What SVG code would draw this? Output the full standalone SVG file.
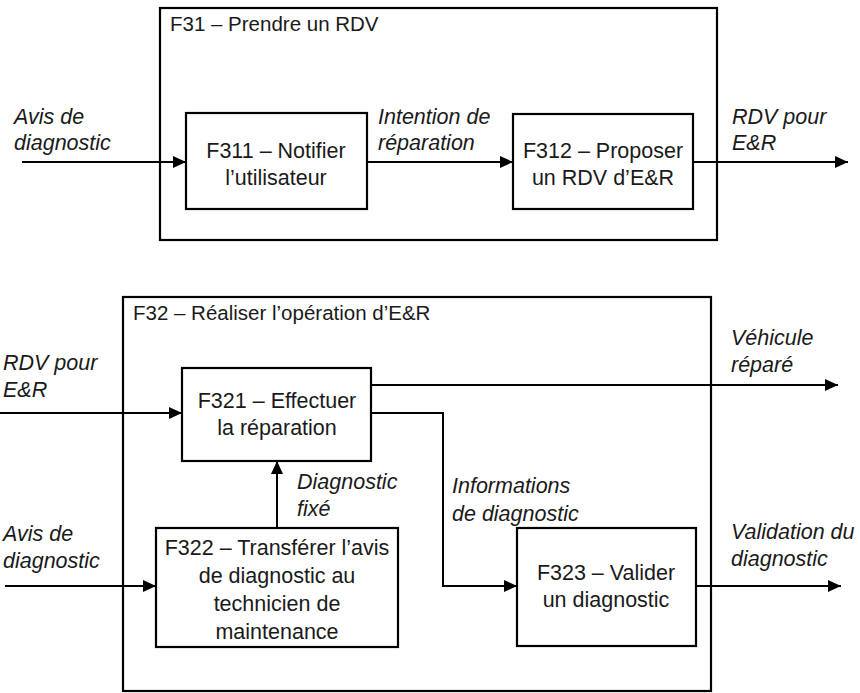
<svg xmlns="http://www.w3.org/2000/svg" width="860" height="693" viewBox="0 0 860 693">
<style>
  .box { fill: none; stroke: #000; stroke-width: 2.2; }
  .line { fill: none; stroke: #000; stroke-width: 2; }
  .t { font-family: "Liberation Sans", Arial, sans-serif; font-size: 21.5px; fill: #1a1a1a; }
  .ttl { font-size: 20.5px; }
  .c { text-anchor: middle; }
  .i { font-style: italic; }
</style>
<defs>
  <marker id="ah" markerWidth="13" markerHeight="12" refX="13" refY="6" orient="auto" markerUnits="userSpaceOnUse">
    <path d="M0,0 L13,6 L0,12 Z" fill="#000"/>
  </marker>
</defs>
<rect width="860" height="693" fill="#fff"/>

<g id="F31">
  <rect class="box" x="160" y="8" width="557" height="232"/>
  <text class="t ttl" x="170" y="31">F31 – Prendre un RDV</text>
</g>
<g id="F311">
  <rect class="box" x="186" y="113" width="181" height="96"/>
  <text class="t c" x="276" y="158">F311 – Notifier</text>
  <text class="t c" x="276" y="185">l’utilisateur</text>
</g>
<g id="F312">
  <rect class="box" x="513" y="114" width="180" height="95"/>
  <text class="t c" x="603" y="158">F312 – Proposer</text>
  <text class="t c" x="603" y="185">un RDV d’E&amp;R</text>
</g>

<g id="F32">
  <rect class="box" x="123" y="297" width="588" height="394"/>
  <text class="t ttl" x="133" y="320">F32 – Réaliser l’opération d’E&amp;R</text>
</g>
<g id="F321">
  <rect class="box" x="182" y="368" width="189" height="93"/>
  <text class="t c" x="277" y="408">F321 – Effectuer</text>
  <text class="t c" x="277" y="435">la réparation</text>
</g>
<g id="F322">
  <rect class="box" x="156" y="528" width="242" height="119"/>
  <text class="t c" x="277" y="555">F322 – Transférer  l’avis</text>
  <text class="t c" x="277" y="583">de diagnostic au</text>
  <text class="t c" x="277" y="611">technicien de</text>
  <text class="t c" x="277" y="639">maintenance</text>
</g>
<g id="F323">
  <rect class="box" x="517" y="528" width="179" height="118"/>
  <text class="t c" x="606" y="580">F323 – Valider</text>
  <text class="t c" x="606" y="607">un diagnostic</text>
</g>

<g id="connectors">
  <line class="line" x1="22" y1="162" x2="186" y2="162" marker-end="url(#ah)"/>
  <line class="line" x1="367" y1="162" x2="513" y2="162" marker-end="url(#ah)"/>
  <line class="line" x1="693" y1="162" x2="848" y2="162" marker-end="url(#ah)"/>
  <line class="line" x1="0" y1="413" x2="182" y2="413" marker-end="url(#ah)"/>
  <line class="line" x1="371" y1="385" x2="838" y2="385" marker-end="url(#ah)"/>
  <polyline class="line" points="371,413 443,413 443,586 517,586" marker-end="url(#ah)"/>
  <line class="line" x1="5" y1="586" x2="156" y2="586" marker-end="url(#ah)"/>
  <line class="line" x1="277" y1="528" x2="277" y2="461" marker-end="url(#ah)"/>
  <line class="line" x1="696" y1="586" x2="841" y2="586" marker-end="url(#ah)"/>
</g>

<g id="labels">
  <text class="t i" x="14" y="124">Avis de</text>
  <text class="t i" x="14" y="150">diagnostic</text>
  <text class="t i" x="378" y="124">Intention de</text>
  <text class="t i" x="378" y="150">réparation</text>
  <text class="t i" x="732" y="124">RDV pour</text>
  <text class="t i" x="732" y="150">E&amp;R</text>
  <text class="t i" x="3" y="370">RDV pour</text>
  <text class="t i" x="3" y="397">E&amp;R</text>
  <text class="t i" x="731" y="345">Véhicule</text>
  <text class="t i" x="731" y="372">réparé</text>
  <text class="t i" x="297" y="489">Diagnostic</text>
  <text class="t i" x="297" y="516">fixé</text>
  <text class="t i" x="452" y="493">Informations</text>
  <text class="t i" x="452" y="521">de diagnostic</text>
  <text class="t i" x="3" y="541">Avis de</text>
  <text class="t i" x="3" y="568">diagnostic</text>
  <text class="t i" x="731" y="539">Validation du</text>
  <text class="t i" x="731" y="566">diagnostic</text>
</g>
</svg>
